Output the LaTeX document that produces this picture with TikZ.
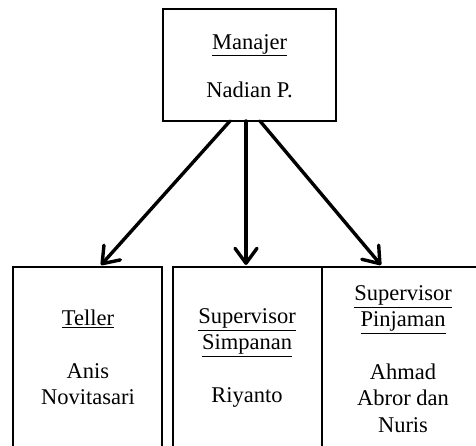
\documentclass[tikz,border=0pt]{standalone}
\usepackage{fontspec}
\setmainfont{Liberation Serif}
\usetikzlibrary{arrows.meta,calc}
\begin{document}
\begin{tikzpicture}[x=1pt,y=-1pt,
  box/.style={draw,line width=2.8pt,inner sep=0pt,minimum height=#1},
  box/.default=203pt,
  txt/.style={align=center,inner sep=0pt,font=\fontsize{22.5}{26.3}\selectfont},
  link/.style={line width=3.4pt,line cap=round,-{Straight Barb[length=15pt,width=22pt,line cap=round,line join=round]}}]
\useasboundingbox (0,0) rectangle (476,446);
\clip (0,0) rectangle (476,446);
% boxes
\node[box=112pt,minimum width=173pt] (mgr) at (249.5,65) {};
\node[box,minimum width=149pt] (b1) at (87.5,368.5) {};
\node[box,minimum width=149pt] (b2) at (247.5,368.5) {};
\node[box,minimum width=178pt] (b3) at (411,368.5) {};
% texts
\node[txt,font=\fontsize{22.5}{24}\selectfont] (tm) at (249.5,66) {\underline{Manajer}\\[24pt]Nadian P.};
\node[txt] (t1) at (88,357.5) {\underline{Teller}\\[26.3pt]Anis\\Novitasari};
\node[txt] (t2) at (247,358) {\underline{Supervisor}\\\underline{Simpanan}\\[26.3pt]Riyanto};
\node[txt] (t3) at (403,359) {\underline{Supervisor}\\\underline{Pinjaman}\\[26.3pt]Ahmad\\Abror dan\\Nuris};
% arrow ends
\coordinate (s1) at (230,121);
\coordinate (s2) at (246,121);
\coordinate (s3) at (260,121);
\coordinate (e1) at (101,265);
\coordinate (e2) at (246,265);
\coordinate (e3) at (381,265);
\draw[link] (s1) -- (e1);
\draw[link] (s2) -- (e2);
\draw[link] (s3) -- (e3);
\end{tikzpicture}
\end{document}
